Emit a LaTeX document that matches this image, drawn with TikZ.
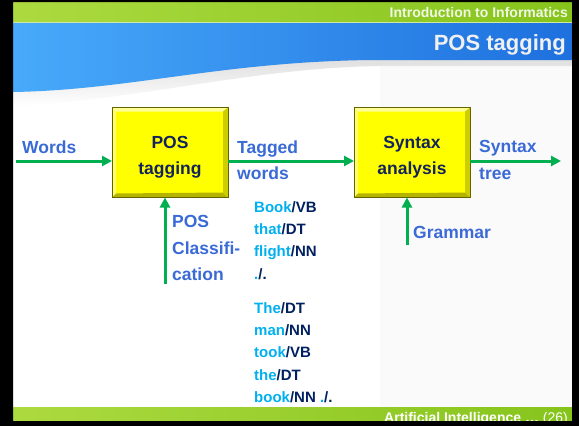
\documentclass[tikz,border=0pt]{standalone}
\usepackage{fontspec}
\setmainfont{Liberation Sans}
\usetikzlibrary{arrows.meta}
\usetikzlibrary{positioning}

\definecolor{labelblue}{RGB}{58,106,214}
\definecolor{boxnavy}{RGB}{20,36,90}
\definecolor{arrowgreen}{RGB}{0,176,80}
\definecolor{wordblue}{RGB}{0,176,240}
\definecolor{tagnavy}{RGB}{0,32,96}
\definecolor{bandgreenL}{RGB}{172,218,64}
\definecolor{bandgreenR}{RGB}{134,196,28}
\definecolor{bandblueL}{RGB}{72,170,250}
\definecolor{bandblueR}{RGB}{30,112,222}
\definecolor{boxyellow}{RGB}{255,255,0}
\definecolor{bevellight}{RGB}{255,255,150}
\definecolor{bevelleft}{RGB}{255,255,110}
\definecolor{beveldark}{RGB}{180,180,0}
\definecolor{bevelside}{RGB}{205,205,0}
\definecolor{boxedge}{RGB}{100,100,0}

\newcommand{\wordtag}[2]{\textcolor{wordblue}{#1}/#2}

\tikzset{
  stagebox/.style={rectangle, fill=boxyellow, minimum width=116pt, minimum height=90pt,
    inner sep=0pt, outer sep=0pt},
  boxtext/.style={align=center, text=boxnavy, inner sep=0pt,
    font=\fontsize{17.5}{26.5}\selectfont\bfseries},
  flow/.style={-{Triangle[length=10pt,width=10pt]}, line width=3pt, arrowgreen},
  flowlabel/.style={inner sep=0pt, align=left, text=labelblue,
    font=\fontsize{17.5}{26.5}\selectfont\bfseries},
  taglist/.style={anchor=north west, inner sep=0pt, align=left, text=tagnavy,
    font=\fontsize{15}{22.3}\selectfont\bfseries},
}

\begin{document}
\begin{tikzpicture}[x=1pt, y=-1pt]
        \useasboundingbox (0,0) rectangle (579,426);
        % slide background
        \fill[white] (0,0) rectangle (579,426);
        \fill[gray!4] (380,64) rectangle (572,407);
        \shade[top color=gray!25, bottom color=white] (13,88) .. controls (130,86) and (220,58) .. (370,58) -- (572,58) -- (572,66) -- (380,66) .. controls (250,68) and (140,100) .. (13,106) -- cycle;
        \shade[left color=bandblueL, right color=bandblueR] (13,22) -- (572,22) -- (572,60) -- (370,60) .. controls (220,62) and (130,90) .. (13,92) -- cycle;
        \shade[left color=bandgreenL, right color=bandgreenR] (13,2) rectangle (572,22);
        \draw[white!60!bandgreenR, line width=0.8pt] (13,22) -- (572,22);
        \shade[left color=bandgreenL, right color=bandgreenR] (13,407) rectangle (572,421);
        \node[anchor=base east, inner sep=0pt, text=white!88!bandgreenR, font=\fontsize{14}{16}\selectfont\bfseries] (course) at (568,17) {Introduction to Informatics};
        \node[anchor=base east, inner sep=0pt, text=white!94!black, font=\fontsize{22}{26}\selectfont\bfseries] (title) at (566,50) {POS tagging};
        \node[anchor=base east, inner sep=0pt, text=white, font=\fontsize{14}{16}\selectfont] (footer) at (568,422) {\textbf{Artificial Intelligence …} (26)};

        % the two stages
        \node[stagebox, label={[boxtext, yshift=-4.5pt]center:POS\\tagging}] (postag) at (170,152.5) {};
        \node[stagebox, right=126pt of postag, label={[boxtext, yshift=-4.5pt]center:Syntax\\analysis}] (syntax) {};
        \foreach \b in {postag,syntax} {
          \fill[bevellight] (\b.north west) -- (\b.north east) -- ([shift={(-4,4)}]\b.north east) -- ([shift={(4,4)}]\b.north west) -- cycle;
          \fill[bevelleft] (\b.north west) -- ([shift={(4,4)}]\b.north west) -- ([shift={(4,-4)}]\b.south west) -- (\b.south west) -- cycle;
          \fill[beveldark] (\b.south west) -- ([shift={(4,-4)}]\b.south west) -- ([shift={(-5,-5)}]\b.south east) -- (\b.south east) -- cycle;
          \fill[bevelside] (\b.north east) -- (\b.south east) -- ([shift={(-5,-5)}]\b.south east) -- ([shift={(-5,4)}]\b.north east) -- cycle;
          \draw[boxedge, line width=0.6pt] (\b.north west) rectangle (\b.south east);
        }

        % flow of data
        \coordinate (wordsin) at (16,161);
        \coordinate (treeout) at (561,161);
        \coordinate (clsin) at (165,284);
        \coordinate (gramin) at (407,245);
        \draw[flow] (wordsin) -- (wordsin -| postag.west);
        \draw[flow] (wordsin -| postag.east) -- (wordsin -| syntax.west);
        \draw[flow] (wordsin -| syntax.east) -- (treeout);
        \draw[flow] (clsin) -- (clsin |- postag.south);
        \draw[flow] (gramin) -- (gramin |- syntax.south);

        % labels
        \node[flowlabel, anchor=base west] (words) at (22,153) {Words};
        \node[flowlabel, anchor=north west] (tagged) at (237,140.4) {Tagged\\words};
        \node[flowlabel, anchor=north west] (tree) at (479,140.4) {Syntax\\tree};
        \node[flowlabel, anchor=north west] (classif) at (172,215.4) {POS\\Classifi-\\cation};
        \node[flowlabel, anchor=base west] (grammar) at (413,238) {Grammar};
        \node[taglist] (sent1) at (254,201.2) {\wordtag{Book}{VB}\\\wordtag{that}{DT}\\\wordtag{flight}{NN}\\\wordtag{.}{.}};
        \node[taglist] (sent2) at (254,302.2) {\wordtag{The}{DT}\\\wordtag{man}{NN}\\\wordtag{took}{VB}\\\wordtag{the}{DT}\\\wordtag{book}{NN} \wordtag{.}{.}};

        % dark frame round the slide
        \fill[black, even odd rule] (0,0) rectangle (579,426) (13,2) rectangle (572,421);
    \end{tikzpicture}
\end{document}
